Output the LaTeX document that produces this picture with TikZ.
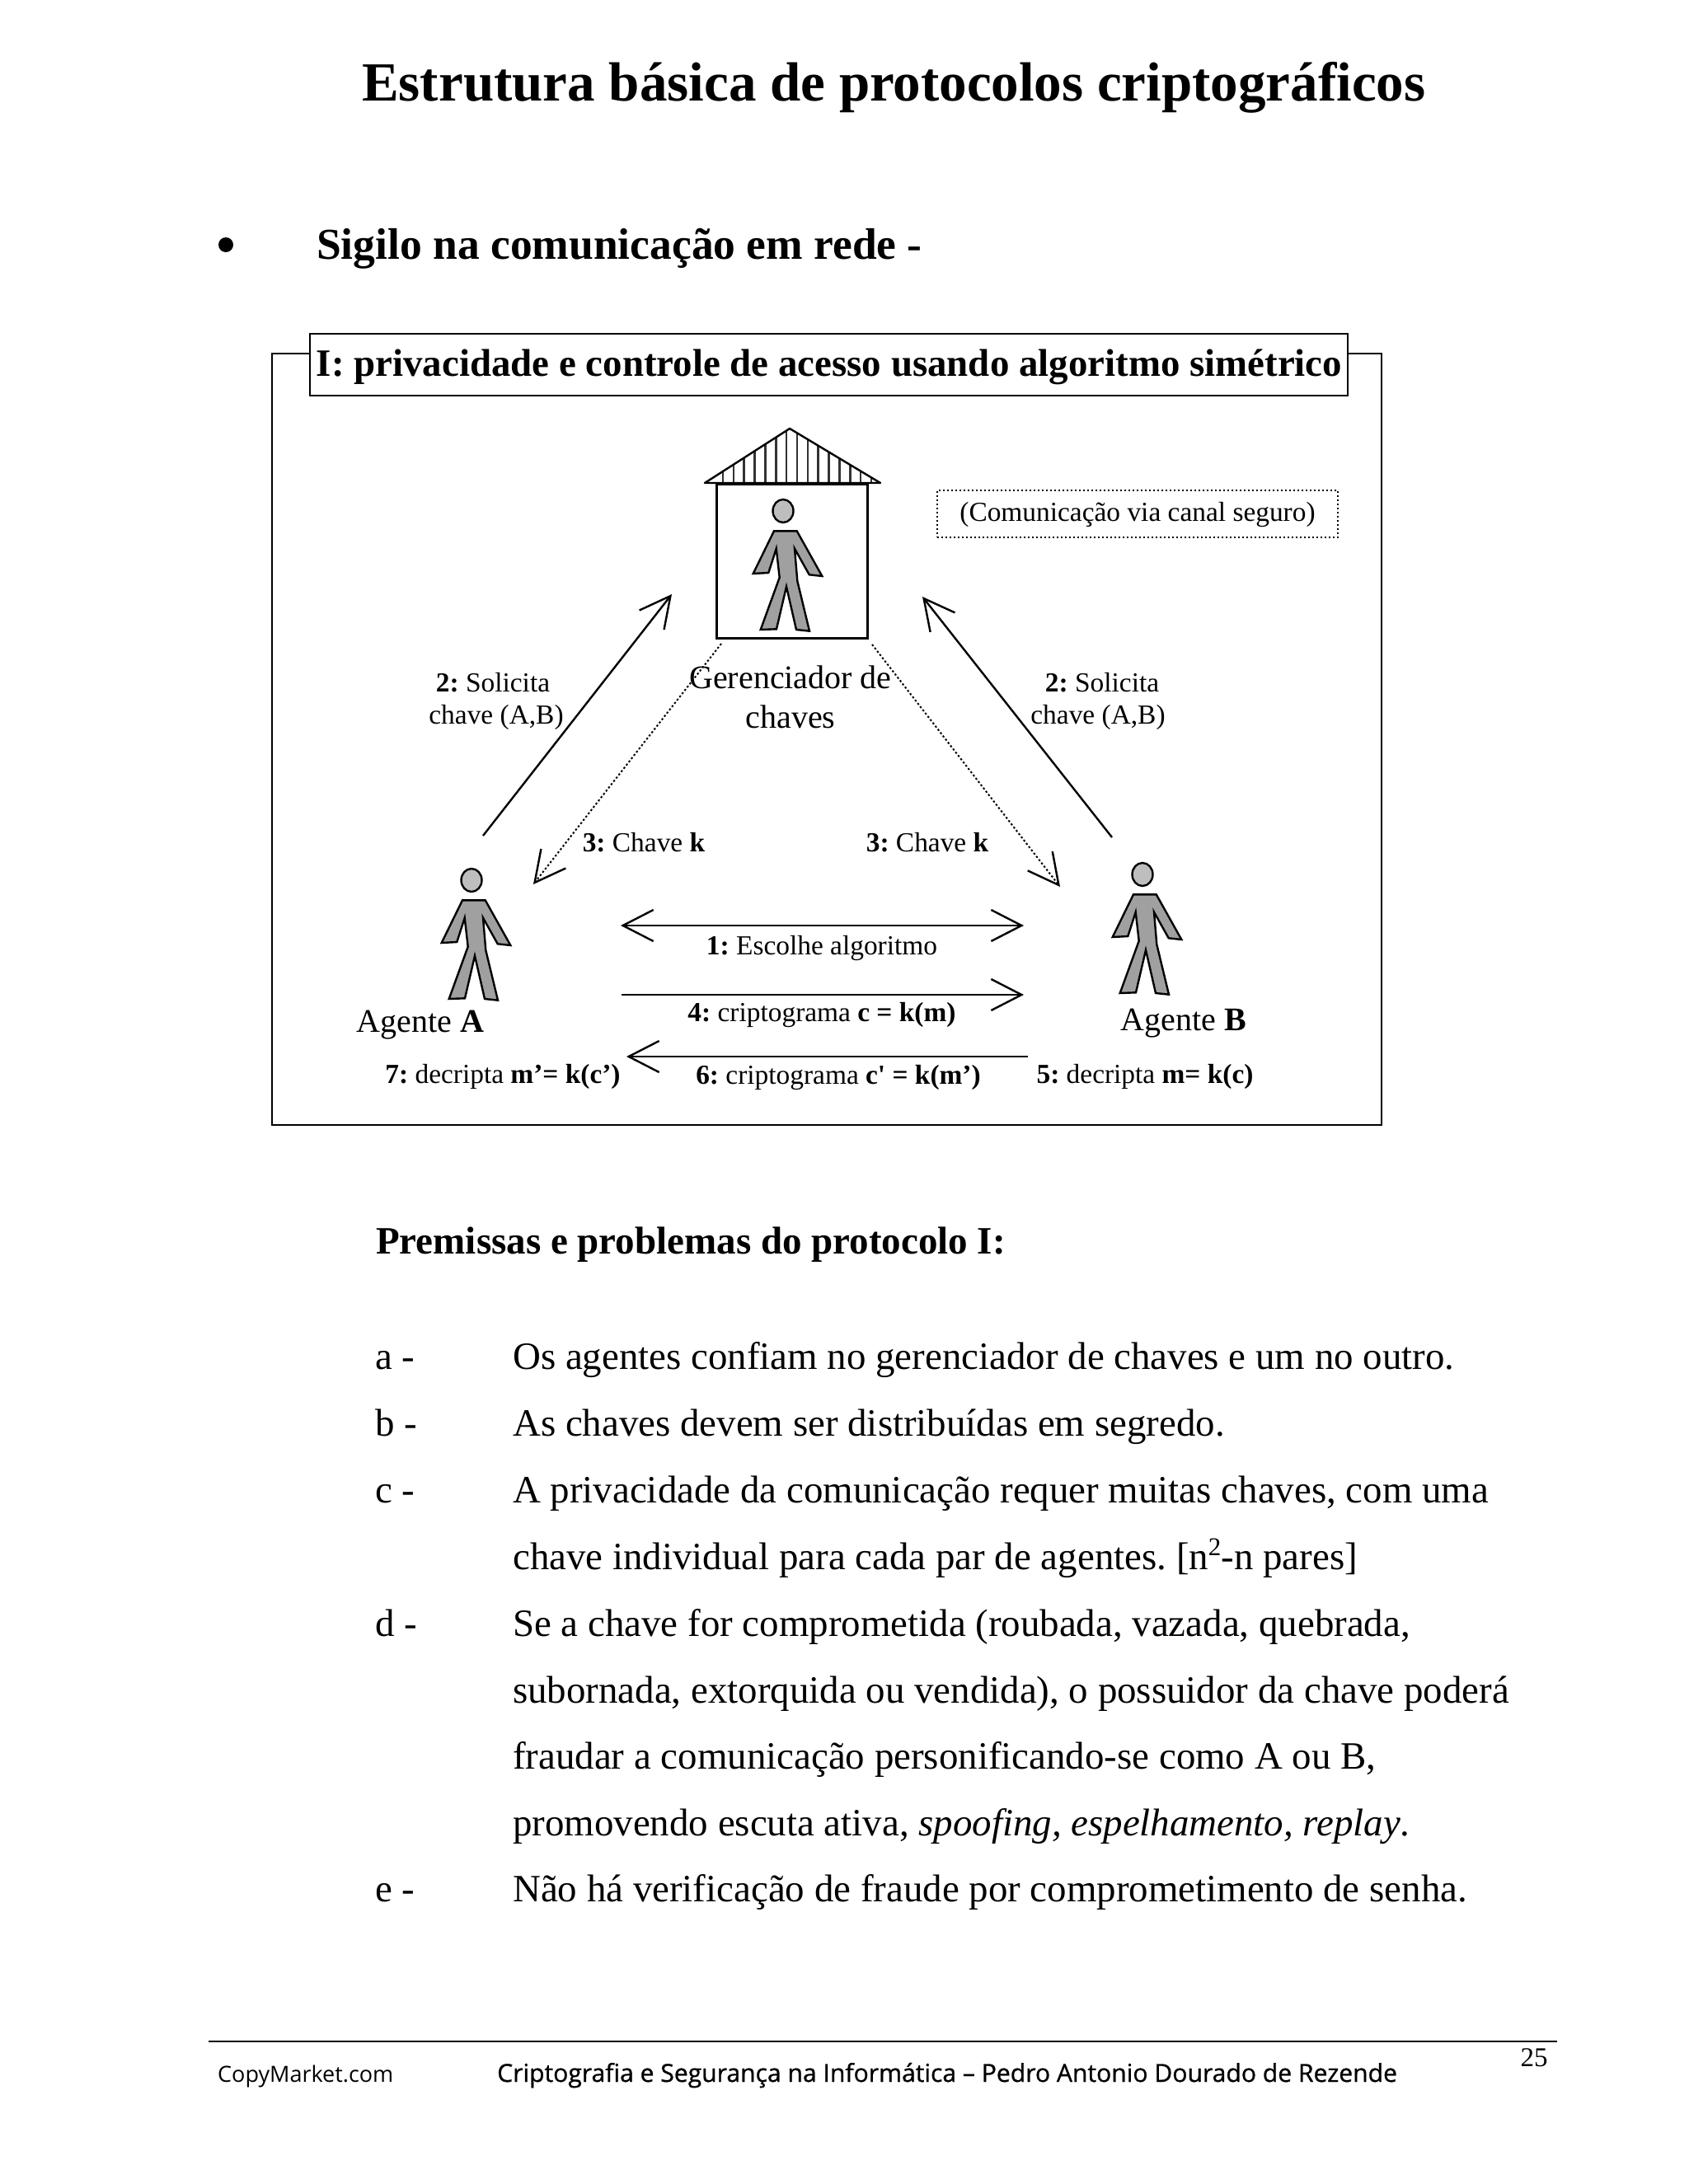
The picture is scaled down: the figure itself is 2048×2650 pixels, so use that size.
\documentclass[tikz,border=0pt]{standalone}
\usepackage{fontspec}
\setmainfont{Liberation Serif}
\newfontfamily\rawserif{Liberation Serif}
\newfontfamily\footfont{Open Sans}
\newfontfamily\footfontb[FakeBold=0.9]{Open Sans}
\usetikzlibrary{arrows.meta}
\AtBeginDocument{\frenchspacing}
\definecolor{bodygray}{HTML}{A0A0A0}
\definecolor{headgray}{HTML}{BEBEBE}
\newcommand{\agentfig}[1]{%
  \begin{scope}[shift={(#1)}]
    \draw[figline,fill=headgray] (950,620) ellipse [x radius=12.5,y radius=14];
    \draw[figline,fill=bodygray] (939,644.3)--(966.7,644.3)--(997.3,699)--(981.7,697.3)--(964,665.7)--(967.3,705)--(982,765.7)--(966,764)--(954,711.7)--(942,763.3)--(922.7,764)--(945.7,700.7)--(941.7,665.7)--(932.3,695)--(913.7,696)--cycle;
  \end{scope}}
\tikzset{
  figline/.style={line width=2.4pt,draw=black,line join=miter},
  solidarrow/.style={line width=2.4pt,-{Straight Barb[length=37pt,width=38pt]}},
  bothway/.style={line width=2.4pt,{Straight Barb[length=37pt,width=38pt]}-{Straight Barb[length=37pt,width=38pt]}},
  dotarrow/.style={line width=2pt,dash pattern=on 2.4pt off 2.6pt,-{Straight Barb[length=37pt,width=38pt,line width=2.4pt]}},
  lab/.style={anchor=base,inner sep=0pt,font=\fontsize{33.4}{36}\selectfont},
  bigl/.style={anchor=base,inner sep=0pt,font=\fontsize{40}{44}\selectfont},
  bodyt/.style={anchor=base west,inner sep=0pt,font=\fontsize{46.9}{50}\selectfont},
  headt/.style={anchor=base west,inner sep=0pt,font=\fontsize{53.5}{56}\selectfont\bfseries},
}
\begin{document}
\begin{tikzpicture}[x=1pt,y=-1pt]
\useasboundingbox[fill=white] (0,0) rectangle (2048,2650);
% headings
\node[anchor=base west,inner sep=0pt,font=\fontsize{67}{70}\selectfont\bfseries] (title) at (439,122) {Estrutura básica de protocolos criptográficos};
\node[inner sep=0pt,circle,fill=black,minimum size=18pt] (bullet) at (274,297) {};
\node[headt] (sigilo) at (384,314.5) {Sigilo na comunicação em rede -};
% frame
\node[draw,line width=2.4pt,minimum width=1346pt,minimum height=936pt,inner sep=0pt,anchor=north west] (frame) at (329,428) {};
\node[draw,line width=2pt,fill=white,minimum width=1259pt,minimum height=75pt,inner sep=0pt] (boxtitle) at (1005.5,442.5) {};
\node[inner sep=0pt,anchor=base,font=\fontsize{46.9}{50}\selectfont\bfseries] (boxtext) at (1006,456) {I: privacidade e controle de acesso usando algoritmo simétrico};
% house
\begin{scope}
  \clip (958,520)--(1068,586)--(855,586)--cycle;
  \foreach \i in {0,...,14}{\draw[line width=2.6pt,draw=black!80] ({877+12.85*\i},515)--({877+12.85*\i},590);}
\end{scope}
\draw[line width=2.4pt,line join=round] (958,520)--(1068,586)--(855,586)--cycle;
\node[draw,line width=2.6pt,minimum width=183pt,minimum height=187pt,inner sep=0pt,anchor=north west] (house) at (868,586) {};
\agentfig{0,0}
\agentfig{-378,448}
\agentfig{436,441}
% coordinates
\coordinate (aUp) at (586,1014);
\coordinate (hL) at (815,721);
\coordinate (bUp) at (1349,1016);
\coordinate (hR) at (1119,724);
\coordinate (dL0) at (875,781);
\coordinate (dL1) at (647,1073);
\coordinate (dR0) at (1058,782);
\coordinate (dR1) at (1286,1076);
\coordinate (m1a) at (753,1123);
\coordinate (m1b) at (1242,1123);
\coordinate (m4a) at (754,1207);
\coordinate (m4b) at (1242,1207);
\coordinate (m6a) at (1247,1282);
\coordinate (m6b) at (760,1282);
% connectors
\draw[solidarrow] (aUp)--(hL);
\draw[solidarrow] (bUp)--(hR);
\draw[dotarrow] (dL0)--(dL1);
\draw[dotarrow] (dR0)--(dR1);
\draw[bothway] (m1a)--(m1b);
\draw[solidarrow] (m4a)--(m4b);
\draw[solidarrow] (m6a)--(m6b);
% labels
\node[lab] (s2a) at (598,839) {\textbf{2:} Solicita};
\node[lab] (c2a) at (602,878) {chave (A,B)};
\node[lab] (s2b) at (1337,839) {\textbf{2:} Solicita};
\node[lab] (c2b) at (1332,878) {chave (A,B)};
\node[bigl] (g1) at (959,835) {Gerenciador de};
\node[bigl] (g2) at (959,883) {chaves};
\node[draw,line width=2pt,dash pattern=on 2.4pt off 2.6pt,minimum width=486pt,minimum height=57pt,inner sep=0pt] (canal) at (1380,623.5) {};
\node[lab] (canalt) at (1380,632) {(Comunicação via canal seguro)};
\node[lab] (k1) at (781,1033) {\textbf{3:} Chave \textbf{k}};
\node[lab] (k2) at (1125,1033) {\textbf{3:} Chave \textbf{k}};
\node[bigl] (aga) at (510,1252) {Agente \textbf{A}};
\node[bigl] (agb) at (1436,1250) {Agente \textbf{B}};
\node[lab] (l1) at (997,1158) {\textbf{1:} Escolhe algoritmo};
\node[lab] (l4) at (997,1239) {\textbf{4:} criptograma \textbf{c = k(m)}};
\node[lab] (l6) at (1017,1315) {\textbf{6:} criptograma \textbf{c{\rawserif\bfseries'} = k(m’)}};
\node[lab] (l7) at (610,1314) {\textbf{7:} decripta \textbf{m’= k(c’)}};
\node[lab] (l5) at (1389,1314) {\textbf{5:} decripta \textbf{m= k(c)}};
% text
\node[anchor=base west,inner sep=0pt,font=\fontsize{47}{50}\selectfont\bfseries] (prem) at (456,1521) {Premissas e problemas do protocolo I:};
\node[bodyt] (a) at (455,1661) {a -};
\node[bodyt] (at) at (622,1661) {Os agentes confiam no gerenciador de chaves e um no outro.};
\node[bodyt] (b) at (455,1742) {b -};
\node[bodyt] (bt) at (622,1742) {As chaves devem ser distribuídas em segredo.};
\node[bodyt] (c) at (455,1823) {c -};
\node[bodyt] (ct) at (622,1823) {A privacidade da comunicação requer muitas chaves, com uma};
\node[bodyt] (ct2) at (622,1904) {chave individual para cada par de agentes. [n\raisebox{0.36em}{\fontsize{31}{31}\selectfont 2}-n pares]};
\node[bodyt] (d) at (455,1985) {d -};
\node[bodyt] (dt) at (622,1985) {Se a chave for comprometida (roubada, vazada, quebrada,};
\node[bodyt] (dt2) at (622,2066) {subornada, extorquida ou vendida), o possuidor da chave poderá};
\node[bodyt] (dt3) at (622,2146) {fraudar a comunicação personificando-se como A ou B,};
\node[bodyt] (dt4) at (622,2227) {promovendo escuta ativa, \textit{spoofing, espelhamento, replay}.};
\node[bodyt] (e) at (455,2307) {e -};
\node[bodyt] (et) at (622,2307) {Não há verificação de fraude por comprometimento de senha.};
% footer
\coordinate (f0) at (253,2477);
\coordinate (f1) at (1889,2477);
\draw[line width=2pt] (f0)--(f1);
\node[anchor=base,inner sep=0pt,font=\fontsize{33}{36}\selectfont] (pg) at (1861,2507) {25};
\node[anchor=base west,inner sep=0pt,font=\footfont\fontsize{27}{30}\selectfont] (cm) at (264,2526) {CopyMarket.com};
\node[anchor=base west,inner sep=0pt,font=\footfontb\fontsize{30.1}{30}\selectfont] (ft) at (603,2526) {Criptografia e Segurança na Informática – Pedro Antonio Dourado de Rezende};
\end{tikzpicture}
\end{document}
